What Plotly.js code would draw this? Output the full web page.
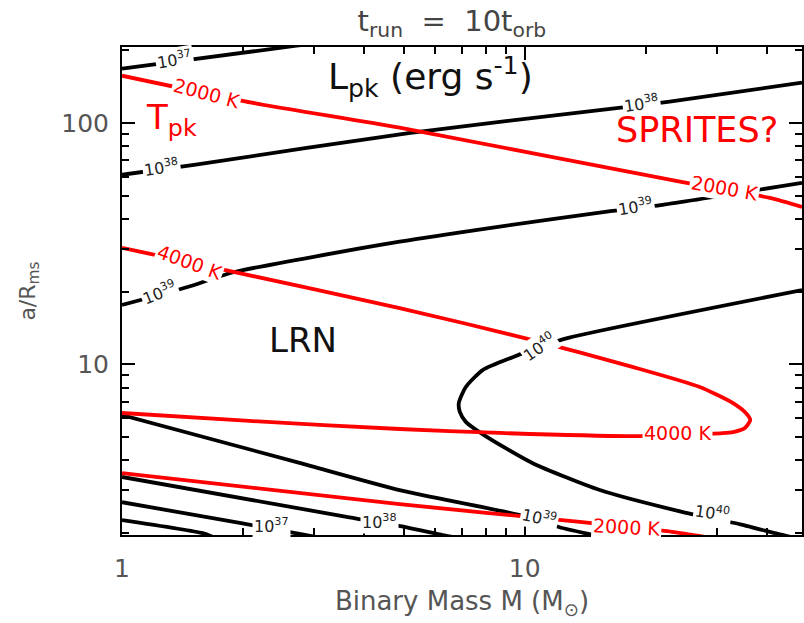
<!DOCTYPE html>
<html><head><meta charset="utf-8">
<script src="https://cdn.plot.ly/plotly-3.0.1.min.js"></script>
<style>html,body{margin:0;padding:0;background:#fff}#chart{width:804px;height:623px}</style>
</head><body><div id="chart"></div>
<script>
// ---- Data (x = binary mass M in Msun, y = a/R_ms) ----
// Peak luminosity contours L_pk (erg/s)
const L37_top_M = [1.0, 2.71, 3.2];
const L37_top_a = [168, 209, 217];
const L38_top_M = [1.0, 1.51, 5.2, 16.5, 22.9, 48.8];
const L38_top_a = [61.0, 67.1, 91, 114.6, 122.5, 146.9];
const L39_top_M = [1.0, 1.455, 1.88, 4.89, 8.67, 16.0, 22.0, 48.8];
const L39_top_a = [17.6, 20.9, 24.0, 32.2, 37.2, 42.9, 45.8, 56.5];
const L40_M = [48.8, 12.9, 10.9, 9.34, 7.86, 7.14, 6.86, 6.90, 7.14, 8.05, 10.47, 15.36, 24.7, 34.3, 42.5, 46.0];
const L40_a = [20.3, 12.9, 11.8, 10.7, 9.46, 8.05, 6.91, 6.34, 5.77, 5.00, 3.89, 3.01, 2.44, 2.17, 1.98, 1.92];
const L39_low_M = [1.0, 2.76, 4.89, 9.72, 12.2, 14.76, 16.0];
const L39_low_a = [6.16, 3.90, 3.01, 2.37, 2.11, 1.96, 1.90];
const L38_low_M = [1.0, 3.67, 5.09, 6.25, 6.9];
const L38_low_a = [3.41, 2.32, 2.11, 1.96, 1.90];
const L37_low_M = [1.0, 1.96, 2.76, 3.1];
const L37_low_a = [2.68, 2.20, 1.98, 1.91];
const L36_low_M = [1.0, 1.585, 1.70];
const L36_low_a = [2.26, 1.995, 1.91];
// Peak temperature contours T_pk
const T2000_top_M = [1.0, 2.10, 4.89, 24.3, 40.6, 48.8];
const T2000_top_a = [157, 121.4, 95.6, 57.1, 48.9, 44.9];
const T4000_M = [1.0, 1.137, 1.88, 4.89, 10.47, 18.5, 27.2, 32.9, 35.4, 36.3, 35.2, 32.9, 31.0, 18.2, 8.67, 4.89, 2.07, 1.0];
const T4000_a = [30.4, 29.0, 24.2, 17.1, 12.6, 9.75, 8.05, 6.90, 6.28, 5.88, 5.44, 5.23, 5.18, 5.04, 5.19, 5.39, 5.82, 6.28];
const T2000_low_M = [1.0, 4.89, 13.7, 23.2, 28.8];
const T2000_low_a = [3.54, 2.63, 2.22, 2.02, 1.91];
// Contour label texts and where they sit (M, a/R_ms)
const lumLabels = ["10<sup>37</sup>", "10<sup>38</sup>", "10<sup>38</sup>", "10<sup>39</sup>", "10<sup>39</sup>", "10<sup>40</sup>", "10<sup>40</sup>", "10<sup>37</sup>", "10<sup>38</sup>", "10<sup>39</sup>"];
const lumLabelM = [1.35, 1.25, 19.5, 1.24, 18.8, 10.9, 29.2, 2.35, 4.37, 10.9];
const lumLabelA = [182.8, 65.4, 120, 19.9, 45.0, 11.8, 2.42, 2.15, 2.23, 2.32];
const tempLabels = ["2000 K", "2000 K", "4000 K", "4000 K", "2000 K"];
const tempLabelM = [1.62, 31.4, 1.47, 23.9, 17.9];
const tempLabelA = [133, 53.8, 26.5, 5.19, 2.11];
const xRange = [1, 48.8];
const yRange = [1.96, 206.5];

// ---- styling ----
const FONT = "DejaVu Sans, Liberation Sans, sans-serif";
const lumAngles = [-9, -8, -8, -22, -9, -35, 8, 0, 0, 12];
const tempAngles = [15, 10, 20, 0, 3];

function line(M, a, color) {
  return {x: M, y: a, mode: 'lines', type: 'scatter', hoverinfo: 'skip',
          line: {color: color, width: 3.8, shape: 'spline', smoothing: 0.6}, showlegend: false};
}
const BLK = '#000000', RED = '#ff0000';
const traces = [
  line(L37_top_M, L37_top_a, BLK), line(L38_top_M, L38_top_a, BLK), line(L39_top_M, L39_top_a, BLK),
  line(L40_M, L40_a, BLK), line(L39_low_M, L39_low_a, BLK), line(L38_low_M, L38_low_a, BLK),
  line(L37_low_M, L37_low_a, BLK), line(L36_low_M, L36_low_a, BLK),
  line(T2000_top_M, T2000_top_a, RED), line(T4000_M, T4000_a, RED), line(T2000_low_M, T2000_low_a, RED)
];

const ann = [];
lumLabels.forEach((t, i) => ann.push({x: Math.log10(lumLabelM[i]), y: Math.log10(lumLabelA[i]), xref: 'x', yref: 'y',
  text: t, showarrow: false, textangle: lumAngles[i], bgcolor: '#ffffff', borderpad: 1,
  font: {family: FONT, size: 16, color: '#222'}}));
tempLabels.forEach((t, i) => ann.push({x: Math.log10(tempLabelM[i]), y: Math.log10(tempLabelA[i]), xref: 'x', yref: 'y',
  text: t, showarrow: false, textangle: tempAngles[i], bgcolor: '#ffffff', borderpad: 1,
  font: {family: FONT, size: 19, color: RED}}));
// Region / key labels
ann.push({x: Math.log10(5.82), y: Math.log10(154.5), xref: 'x', yref: 'y', showarrow: false,
  text: "L<sub>pk</sub> (erg s<sup>-1</sup>)", font: {family: FONT, size: 36, color: '#111'}});
ann.push({x: Math.log10(1.33), y: Math.log10(103), xref: 'x', yref: 'y', showarrow: false,
  text: "T<sub>pk</sub>", font: {family: FONT, size: 34, color: RED}});
ann.push({x: Math.log10(26.7), y: Math.log10(93.8), xref: 'x', yref: 'y', showarrow: false,
  text: "SPRITES?", font: {family: FONT, size: 35, color: RED}});
ann.push({x: Math.log10(2.82), y: Math.log10(12.6), xref: 'x', yref: 'y', showarrow: false,
  text: "LRN", font: {family: FONT, size: 34, color: '#111'}});

const axisCommon = {
  type: 'log', showgrid: false, zeroline: false, showline: true, linecolor: '#000', linewidth: 2,
  mirror: 'allticks', ticks: 'inside', ticklen: 13, tickwidth: 2, tickcolor: '#000', dtick: 1,
  tickfont: {family: FONT, size: 25, color: '#555'},
  minor: {ticks: 'inside', ticklen: 7, tickwidth: 2, tickcolor: '#000', dtick: 'D1', showgrid: false}
};
const layout = {
  width: 804, height: 623, paper_bgcolor: '#fff', plot_bgcolor: '#fff',
  margin: {l: 122, r: 2, t: 47, b: 88},
  title: {text: "t<sub>run</sub> &nbsp;= &nbsp;10t<sub>orb</sub>", x: 0.562, xanchor: 'center', y: 0.966, yanchor: 'middle',
          font: {family: FONT, size: 29, color: '#444'}},
  xaxis: Object.assign({}, axisCommon, {range: [Math.log10(xRange[0]), Math.log10(xRange[1])], ticklabelstandoff: 10,
          title: {text: "Binary Mass M (M<sub>⊙</sub>)", font: {family: FONT, size: 26, color: '#555'}, standoff: 10}}),
  yaxis: Object.assign({}, axisCommon, {range: [Math.log10(yRange[0]), Math.log10(yRange[1])], ticklabelstandoff: 6,
          title: {text: "a/R<sub>ms</sub>", font: {family: FONT, size: 22, color: '#555'}, standoff: 20}}),
  annotations: ann, hovermode: false, showlegend: false
};
Plotly.newPlot('chart', traces, layout, {staticPlot: true});
</script></body></html>
